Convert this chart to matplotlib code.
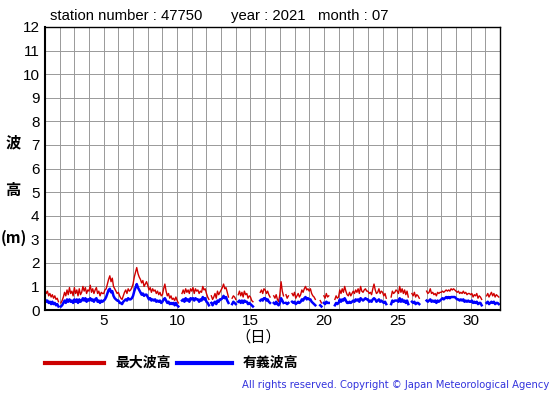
import numpy as np
import matplotlib
matplotlib.use("Agg")
import matplotlib.pyplot as plt
from matplotlib.ticker import MultipleLocator

nan = np.nan
# 2-hourly values (00,02,...,22h) for each day of July 2021
max_wave = [
    [0.85, 0.7, 0.8, 0.6, 0.7, 0.55, 0.65, 0.5, 0.6, 0.45, 0.5, 0.35],
    [nan, 0.3, 0.4, 0.55, 0.75, 0.6, 0.85, 0.65, 0.95, 0.7, 0.8, 0.6],
    [0.95, 0.7, 0.85, 0.6, 0.9, 0.65, 0.75, 1.0, 0.8, 0.95, 0.7, 0.85],
    [0.8, 1.05, 0.75, 0.9, 0.7, 0.85, 0.95, 0.7, 0.8, 0.6, 0.75, 0.7],
    [0.7, 0.85, 0.9, 1.1, 1.3, 1.45, 1.2, 1.35, 1.0, 0.9, 0.8, 0.7],
    [0.75, 0.6, 0.5, 0.45, 0.6, 0.75, 0.85, 0.7, 0.9, 0.8, 0.85, 0.95],
    [1.1, 1.4, 1.6, 1.8, 1.55, 1.4, 1.3, 1.15, 1.25, 1.0, 1.1, 1.2],
    [1.05, 0.85, 0.95, 0.75, 0.9, 0.8, 0.85, 0.7, 0.8, 0.65, 0.75, 0.6],
    [0.65, 0.9, 1.1, 0.8, 0.6, 0.7, 0.5, 0.6, 0.45, 0.5, 0.4, 0.55],
    [0.4, 0.3, nan, nan, 0.7, 0.85, 0.7, 0.9, 0.75, 0.85, 0.7, 0.9],
    [0.8, 0.95, 0.7, 0.9, 0.8, 0.85, 0.7, 0.8, 0.75, 1.0, 0.85, 0.9],
    [0.7, 0.55, 0.45, nan, 0.6, 0.45, 0.55, 0.7, 0.5, 0.8, 0.65, 0.75],
    [0.85, 0.95, 1.1, 0.9, 0.95, 0.75, 0.55, nan, nan, 0.5, 0.6, 0.55],
    [0.45, nan, 0.65, 0.8, 0.6, 0.75, 0.55, 0.8, 0.65, 0.7, 0.5, 0.6],
    [0.55, 0.4, 0.35, nan, nan, 0.45, nan, nan, 0.75, 0.85, 0.7, 0.9],
    [0.85, 0.7, 0.8, 0.65, 0.55, nan, nan, 0.6, 0.5, 0.65, 0.45, 0.35],
    [0.65, 1.2, 0.8, 0.6, nan, 0.65, 0.5, 0.6, nan, nan, 0.7, 0.6],
    [0.75, 0.5, 0.6, 0.7, 0.55, 0.65, 0.85, 0.75, 0.9, 1.0, 0.85, 0.9],
    [0.8, 0.9, 0.7, 0.6, 0.55, 0.45, nan, nan, nan, 0.4, 0.3, nan],
    [0.6, 0.5, 0.7, 0.55, 0.6, nan, nan, nan, nan, 0.45, 0.6, 0.5],
    [0.55, 0.85, 0.7, 0.9, 0.75, 1.0, 0.8, 0.65, 0.6, 0.75, 0.6, 0.7],
    [0.8, 0.7, 0.85, 0.75, 0.9, 0.7, 1.0, 0.8, 0.75, 0.85, 0.9, 0.8],
    [0.8, 0.7, 0.75, 0.65, 0.9, 1.1, 0.85, 0.7, 0.75, 0.9, 0.7, 0.8],
    [0.75, 0.6, 0.7, 0.5, nan, 0.45, nan, 0.55, 0.8, 0.7, 0.75, 0.85],
    [0.8, 0.7, 1.0, 0.75, 0.9, 0.7, 0.85, 0.65, 0.8, 0.55, nan, nan],
    [0.7, 0.6, 0.75, 0.55, 0.65, 0.6, 0.5, nan, nan, nan, nan, nan],
    [0.8, 0.7, 0.75, 0.9, 0.7, 0.75, 0.65, 0.7, 0.6, 0.75, 0.7, 0.75],
    [0.75, 0.8, 0.75, 0.8, 0.85, 0.8, 0.85, 0.8, 0.9, 0.85, 0.9, 0.85],
    [0.8, 0.75, 0.8, 0.7, 0.75, 0.7, 0.8, 0.7, 0.75, 0.65, 0.7, 0.7],
    [0.65, 0.7, 0.55, 0.65, 0.6, 0.7, 0.5, 0.6, 0.55, 0.45, nan, nan],
    [nan, 0.6, 0.7, 0.55, 0.65, 0.75, 0.6, 0.7, 0.55, 0.65, 0.6, 0.55],
]
sig_wave = [
    [0.45, 0.35, 0.4, 0.3, 0.35, 0.25, 0.35, 0.25, 0.3, 0.2, 0.25, 0.15],
    [nan, 0.15, 0.2, 0.3, 0.4, 0.3, 0.45, 0.35, 0.45, 0.35, 0.4, 0.3],
    [0.45, 0.35, 0.45, 0.3, 0.45, 0.35, 0.4, 0.5, 0.4, 0.5, 0.35, 0.45],
    [0.4, 0.5, 0.4, 0.45, 0.35, 0.45, 0.5, 0.35, 0.4, 0.3, 0.4, 0.35],
    [0.4, 0.45, 0.55, 0.7, 0.85, 0.9, 0.75, 0.8, 0.6, 0.5, 0.45, 0.4],
    [0.4, 0.3, 0.3, 0.25, 0.35, 0.4, 0.45, 0.4, 0.5, 0.45, 0.45, 0.5],
    [0.6, 0.8, 0.95, 1.1, 0.95, 0.85, 0.75, 0.65, 0.7, 0.6, 0.65, 0.65],
    [0.55, 0.45, 0.5, 0.4, 0.45, 0.4, 0.45, 0.35, 0.4, 0.35, 0.4, 0.3],
    [0.35, 0.45, 0.5, 0.4, 0.3, 0.35, 0.25, 0.3, 0.25, 0.3, 0.2, 0.3],
    [0.2, 0.15, nan, nan, 0.4, 0.45, 0.35, 0.5, 0.4, 0.45, 0.35, 0.5],
    [0.45, 0.5, 0.4, 0.5, 0.45, 0.45, 0.35, 0.45, 0.4, 0.55, 0.45, 0.5],
    [0.35, 0.3, 0.2, nan, 0.3, 0.2, 0.3, 0.35, 0.25, 0.4, 0.35, 0.45],
    [0.45, 0.5, 0.6, 0.5, 0.55, 0.4, 0.3, nan, nan, 0.25, 0.35, 0.3],
    [0.25, nan, 0.35, 0.4, 0.3, 0.4, 0.3, 0.4, 0.35, 0.35, 0.25, 0.3],
    [0.25, 0.2, 0.15, nan, nan, 0.2, nan, nan, 0.4, 0.45, 0.4, 0.5],
    [0.5, 0.4, 0.45, 0.35, 0.3, nan, nan, 0.3, 0.25, 0.35, 0.25, 0.2],
    [0.3, 0.5, 0.4, 0.3, nan, 0.3, 0.25, 0.3, nan, nan, 0.35, 0.3],
    [0.35, 0.25, 0.3, 0.35, 0.3, 0.35, 0.45, 0.4, 0.5, 0.55, 0.45, 0.5],
    [0.45, 0.45, 0.35, 0.3, 0.25, 0.2, nan, nan, nan, 0.2, 0.15, nan],
    [0.3, 0.25, 0.35, 0.3, 0.3, nan, nan, nan, nan, 0.2, 0.3, 0.25],
    [0.3, 0.45, 0.35, 0.45, 0.4, 0.5, 0.4, 0.3, 0.3, 0.35, 0.3, 0.35],
    [0.4, 0.35, 0.45, 0.4, 0.45, 0.35, 0.5, 0.45, 0.4, 0.45, 0.5, 0.45],
    [0.45, 0.35, 0.4, 0.35, 0.45, 0.5, 0.45, 0.35, 0.4, 0.45, 0.35, 0.4],
    [0.35, 0.3, 0.35, 0.25, nan, 0.2, nan, 0.25, 0.4, 0.35, 0.4, 0.4],
    [0.4, 0.35, 0.5, 0.35, 0.45, 0.35, 0.4, 0.3, 0.4, 0.25, nan, nan],
    [0.35, 0.3, 0.35, 0.25, 0.3, 0.3, 0.25, nan, nan, nan, nan, nan],
    [0.4, 0.35, 0.4, 0.45, 0.35, 0.4, 0.35, 0.4, 0.3, 0.4, 0.35, 0.4],
    [0.45, 0.5, 0.45, 0.5, 0.55, 0.5, 0.55, 0.5, 0.55, 0.55, 0.55, 0.55],
    [0.5, 0.45, 0.45, 0.4, 0.45, 0.4, 0.45, 0.35, 0.4, 0.35, 0.4, 0.35],
    [0.35, 0.4, 0.3, 0.35, 0.3, 0.35, 0.25, 0.3, 0.3, 0.2, nan, nan],
    [nan, 0.3, 0.35, 0.25, 0.3, 0.35, 0.3, 0.35, 0.25, 0.3, 0.3, 0.25],
]
x_ticks = [5, 10, 15, 20, 25, 30]
y_ticks = list(range(0, 13))

days = np.arange(1, 32)
hours = np.arange(0, 24, 2)
t = (days[:, None] + hours[None, :] / 24.0).ravel()
hmax = np.array(max_wave, dtype=float).ravel()
hsig = np.array(sig_wave, dtype=float).ravel()

plt.rcParams['font.family'] = ['Liberation Sans', 'Noto Sans CJK JP', 'DejaVu Sans']

fig = plt.figure(figsize=(5.55, 3.95), dpi=100)
ax = fig.add_axes([45/555, 1-310/395, 455/555, 283/395])
ax.plot(t, hmax, color='#d00000', lw=1.0)
ax.plot(t, hsig, color='#0000ff', lw=1.8)
ax.set_xlim(1, 32)
ax.set_ylim(0, 12)
ax.set_xticks(x_ticks)
ax.set_yticks(y_ticks)
ax.xaxis.set_minor_locator(MultipleLocator(1))
ax.grid(True, which='both', color='#999999', lw=0.7)
ax.tick_params(which='both', length=0, labelsize=11, pad=3)
ax.tick_params(axis='y', pad=4)
for s in ax.spines.values():
    s.set_color('black')
    s.set_linewidth(1.0)
ax.spines['left'].set_linewidth(1.5)
ax.spines['bottom'].set_linewidth(1.5)

fig.text(50/555, 1-16/395, 'station number : 47750', fontsize=10.7, va='center', ha='left')
fig.text(231/555, 1-16/395, 'year : 2021', fontsize=10.7, va='center', ha='left')
fig.text(318/555, 1-16/395, 'month : 07', fontsize=10.7, va='center', ha='left')

cjk = ['Noto Sans CJK JP', 'DejaVu Sans']
fig.text(13/555, 1-142/395, '波', fontsize=11, ha='center', va='center', family=cjk, weight='bold')
fig.text(13/555, 1-190/395, '高', fontsize=11, ha='center', va='center', family=cjk, weight='bold')
fig.text(1/555, 1-238/395, '(m)', fontsize=11, ha='left', va='center', family=cjk, weight='bold')
fig.text(258/555, 1-337/395, '（日）', fontsize=11, ha='center', va='center', family=cjk)

fig.add_artist(plt.Line2D([45/555, 104/555], [1-363/395, 1-363/395], color='#cc0000', lw=3))
fig.text(115/555, 1-363/395, '最大波高', fontsize=10, ha='left', va='center', family=cjk, weight='bold')
fig.add_artist(plt.Line2D([177/555, 232/555], [1-363/395, 1-363/395], color='#0000ff', lw=3))
fig.text(243/555, 1-363/395, '有義波高', fontsize=10, ha='left', va='center', family=cjk, weight='bold')
fig.text(549/555, 1-385/395, 'All rights reserved. Copyright © Japan Meteorological Agency',
         fontsize=7.2, ha='right', va='center', color='#3333dd', family=['DejaVu Sans'])

fig.savefig('out.png', dpi=100)
